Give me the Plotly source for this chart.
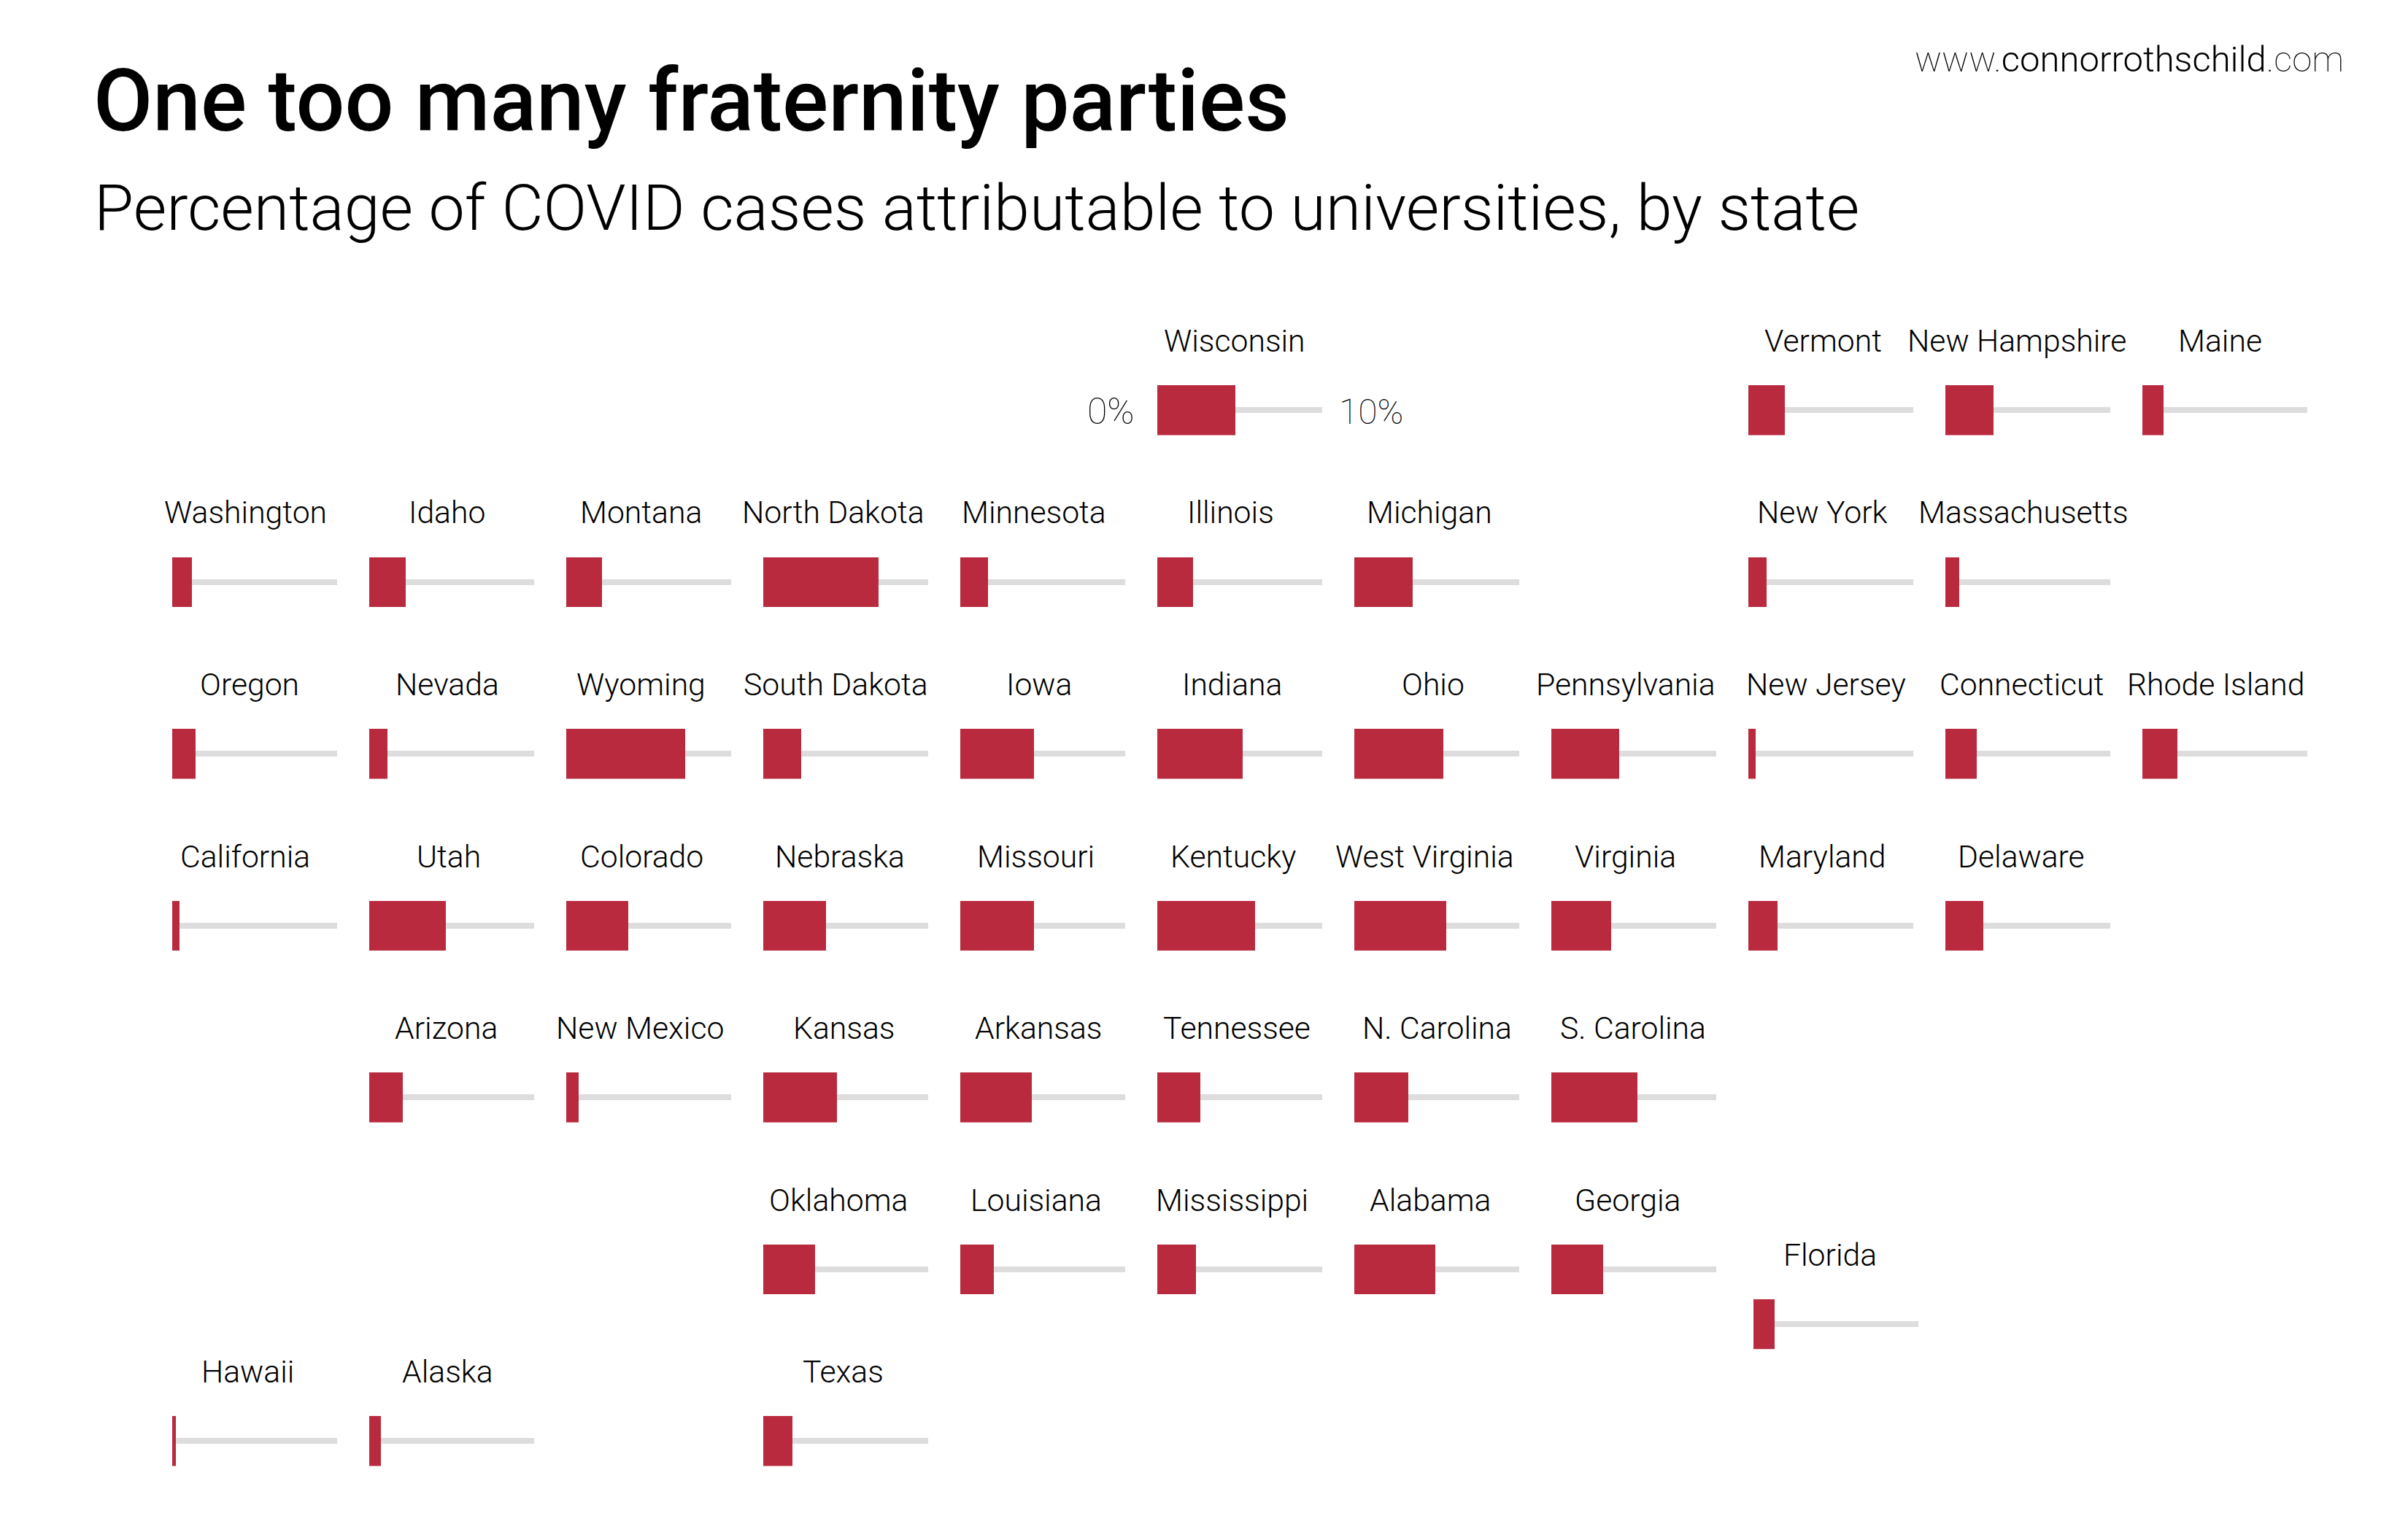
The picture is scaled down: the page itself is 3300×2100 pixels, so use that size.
import plotly.graph_objects as go

# ---- data -------------------------------------------------------------
STATES = ["Wisconsin","Vermont","New Hampshire","Maine",
          "Washington","Idaho","Montana","North Dakota","Minnesota","Illinois","Michigan","New York","Massachusetts",
          "Oregon","Nevada","Wyoming","South Dakota","Iowa","Indiana","Ohio","Pennsylvania","New Jersey","Connecticut","Rhode Island",
          "California","Utah","Colorado","Nebraska","Missouri","Kentucky","West Virginia","Virginia","Maryland","Delaware",
          "Arizona","New Mexico","Kansas","Arkansas","Tennessee","N. Carolina","S. Carolina",
          "Oklahoma","Louisiana","Mississippi","Alabama","Georgia","Florida",
          "Hawaii","Alaska","Texas"]
SHARE_PCT = [4.74,2.2,2.9,1.3,
             1.2,2.2,2.15,7.0,1.7,2.15,3.55,1.1,0.85,
             1.4,1.1,7.2,2.3,4.45,5.15,5.4,4.1,0.45,1.9,2.1,
             0.45,4.65,3.75,3.8,4.45,5.9,5.55,3.6,1.75,2.3,
             2.05,0.75,4.45,4.35,2.6,3.25,5.2,
             3.15,2.05,2.35,4.9,3.15,1.27,
             0.24,0.69,1.75]
AXIS_MAX = 10

# ---- tile-map layout (column, row) --------------------------------------
COLS = [5,8,9,10,
        0,1,2,3,4,5,6,8,9,
        0,1,2,3,4,5,6,7,8,9,10,
        0,1,2,3,4,5,6,7,8,9,
        1,2,3,4,5,6,7,
        3,4,5,6,7,8,
        0,1,3]
ROWS = [0,0,0,0,
        1,1,1,1,1,1,1,1,1,
        2,2,2,2,2,2,2,2,2,2,2,
        3,3,3,3,3,3,3,3,3,3,
        4,4,4,4,4,4,4,
        5,5,5,5,5,5,
        6,6,6]
# label centres, in the 1568-wide preview's pixels
LABEL_CX = [804,1187,1313.5,1445.5,
            160,291,417.5,542.5,673.5,801.5,931,1186.5,1317.5,
            162.5,291.5,417.5,544.5,676.5,802.5,933,1058.5,1189,1316.5,1443,
            159.5,292,418,547,674.5,803,927.5,1058.5,1186.5,1316,
            290.5,416.5,549.5,676.5,805.5,936,1063.5,
            546,674.5,802.5,931.5,1060,1191.5,
            161.5,291.5,549]

W, H = 3300, 2100
X0, DX = 235.6, 270.0
Y0, DY = 528.0, 235.5
TILE_W, TILE_H = 226.4, 68.5
TRACK_H = 8.3
RED, GREY = "#B92A3F", "#DDDDDD"
FONT = "Roboto"
PREVIEW = 3300 / 1568

fig = go.Figure()
annotations = []

for i, (name, val, c, r, cx) in enumerate(zip(STATES, SHARE_PCT, COLS, ROWS, LABEL_CX)):
    left = X0 + DX * c
    top = Y0 + DY * r
    if name == "Florida":
        left += 7.4
        top += 75.2
    sfx = "" if i == 0 else str(i + 1)
    fig.add_trace(go.Bar(x=[AXIS_MAX], y=[0], orientation="h", width=TRACK_H / TILE_H,
                         marker=dict(color=GREY, line_width=0), xaxis="x" + sfx, yaxis="y" + sfx,
                         showlegend=False, hoverinfo="skip"))
    fig.add_trace(go.Bar(x=[val], y=[0], orientation="h", width=1, name=name,
                         marker=dict(color=RED, line_width=0), xaxis="x" + sfx, yaxis="y" + sfx,
                         showlegend=False, hovertemplate=name + ": %{x}%<extra></extra>"))
    fig.layout["xaxis" + sfx] = dict(domain=[left / W, (left + TILE_W) / W], range=[0, AXIS_MAX],
                                     visible=False, fixedrange=True, anchor="y" + sfx)
    fig.layout["yaxis" + sfx] = dict(domain=[1 - (top + TILE_H) / H, 1 - top / H], range=[-0.5, 0.5],
                                     visible=False, fixedrange=True, anchor="x" + sfx)
    annotations.append(dict(text=name, x=cx * PREVIEW / W, y=1 - (top - 46 - 15) / H,
                            xref="paper", yref="paper", xanchor="center", yanchor="middle", showarrow=False,
                            font=dict(family=FONT, size=42.7, color="#000000", weight=300)))

def txt(text, px, py, size, weight, anchor="left"):
    annotations.append(dict(text=text, x=px / W, y=1 - py / H, xref="paper", yref="paper",
                            xanchor=anchor, yanchor="middle", showarrow=False,
                            font=dict(family=FONT, size=size, color="#000000", weight=weight)))

txt("One too many fraternity parties", 126, 139, 118, 500)
txt("Percentage of COVID cases attributable to universities, by state", 127, 285, 88, 300)
txt('<span style="font-weight:100">www.</span>connorrothschild<span style="font-weight:100">.com</span>',
    3214, 82, 49, 300, "right")
txt("0%", 1488, 564, 50, 100)
txt("10%", 1833, 564, 48, 100)

fig.update_layout(width=W, height=H, margin=dict(l=0, r=0, t=0, b=0, pad=0), autosize=False,
                  paper_bgcolor="#FFFFFF", plot_bgcolor="#FFFFFF", barmode="overlay", bargap=0,
                  showlegend=False, annotations=annotations)
fig.write_html("out.html", post_script="document.body.style.margin='0';", config={"displayModeBar": False})
